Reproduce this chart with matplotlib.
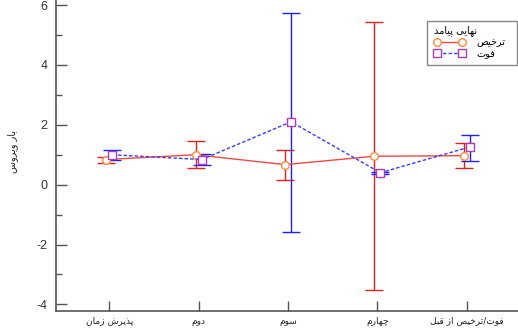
import re
import numpy as np
import matplotlib
matplotlib.use("Agg")
import matplotlib.pyplot as plt
from matplotlib.patches import Rectangle

# ---------------- data ----------------
categories = ["زمان پذیرش", "دوم", "سوم", "چهارم", "قبل از ترخیص/فوت"]
series_names = ["ترخیص", "فوت"]
legend_title = "پیامد نهایی"
y_label = "بار ویروس"

discharge_mean = [0.84, 1.00, 0.67, 0.95, 0.97]
discharge_low = [0.74, 0.57, 0.17, -3.51, 0.56]
discharge_high = [0.94, 1.47, 1.17, 5.42, 1.38]

death_mean = [1.00, 0.84, 2.10, 0.40, 1.26]
death_low = [0.84, 0.65, -1.57, 0.36, 0.80]
death_high = [1.17, 1.01, 5.75, 0.44, 1.66]

y_ticks = [-4, -2, 0, 2, 4, 6]

# ---------------- minimal Persian shaping ----------------
FORMS = {  # isolated, final, initial, medial
    'ا': ('\uFE8D', '\uFE8E', None, None),
    'د': ('\uFEA9', '\uFEAA', None, None),
    'ذ': ('\uFEAB', '\uFEAC', None, None),
    'ر': ('\uFEAD', '\uFEAE', None, None),
    'ز': ('\uFEAF', '\uFEB0', None, None),
    'و': ('\uFEED', '\uFEEE', None, None),
    'ب': ('\uFE8F', '\uFE90', '\uFE91', '\uFE92'),
    'پ': ('\uFB56', '\uFB57', '\uFB58', '\uFB59'),
    'ت': ('\uFE95', '\uFE96', '\uFE97', '\uFE98'),
    'ج': ('\uFE9D', '\uFE9E', '\uFE9F', '\uFEA0'),
    'چ': ('\uFB7A', '\uFB7B', '\uFB7C', '\uFB7D'),
    'خ': ('\uFEA5', '\uFEA6', '\uFEA7', '\uFEA8'),
    'س': ('\uFEB1', '\uFEB2', '\uFEB3', '\uFEB4'),
    'ش': ('\uFEB5', '\uFEB6', '\uFEB7', '\uFEB8'),
    'ص': ('\uFEB9', '\uFEBA', '\uFEBB', '\uFEBC'),
    'ف': ('\uFED1', '\uFED2', '\uFED3', '\uFED4'),
    'ق': ('\uFED5', '\uFED6', '\uFED7', '\uFED8'),
    'ل': ('\uFEDD', '\uFEDE', '\uFEDF', '\uFEE0'),
    'م': ('\uFEE1', '\uFEE2', '\uFEE3', '\uFEE4'),
    'ن': ('\uFEE5', '\uFEE6', '\uFEE7', '\uFEE8'),
    'ه': ('\uFEE9', '\uFEEA', '\uFEEB', '\uFEEC'),
    'ی': ('\uFEEF', '\uFEF0', '\uFEF3', '\uFEF4'),
}


def shape_word(w):
    out = []
    for i, ch in enumerate(w):
        f = FORMS.get(ch)
        if f is None:
            out.append(ch)
            continue
        prev = w[i - 1] if i > 0 else None
        nxt = w[i + 1] if i + 1 < len(w) else None
        jp = prev in FORMS and FORMS[prev][2] is not None
        jn = f[2] is not None and nxt in FORMS
        if jp and jn:
            out.append(f[3])
        elif jp:
            out.append(f[1])
        elif jn:
            out.append(f[2])
        else:
            out.append(f[0])
    return ''.join(reversed(out))


def fa(text):
    # shape each Arabic run; keep run order left-to-right as in the reference
    return re.sub('[\u0600-\u06FF]+', lambda m: shape_word(m.group(0)), text)


def fa_rtl(text):
    return ' '.join(fa(w) for w in reversed(text.split(' ')))


# ---------------- plot ----------------
FONT = ['Liberation Sans', 'DejaVu Sans']
AR = ['DejaVu Sans']

fig = plt.figure(figsize=(5.18, 3.31), dpi=100)
ax = fig.add_axes([56 / 518, 20 / 331, 1 - 56 / 518, 1 - 20 / 331])

x = np.arange(len(categories))
dodge = 0.035

red_line = '#EC4A46'
red_err = '#E0221E'
orange = '#FF8C3A'
blue_line = '#3A3AF8'
blue_err = '#1F1FF5'
purple = '#B03AB8'

d_mean = np.array(discharge_mean)
d_err = np.vstack([d_mean - np.array(discharge_low), np.array(discharge_high) - d_mean])
m_mean = np.array(death_mean)
m_err = np.vstack([m_mean - np.array(death_low), np.array(death_high) - m_mean])

ax.errorbar(x - dodge, d_mean, yerr=d_err, fmt='none', ecolor=red_err,
            elinewidth=1.0, capsize=6.5, capthick=1.0, zorder=2)
ax.errorbar(x + dodge, m_mean, yerr=m_err, fmt='none', ecolor=blue_err,
            elinewidth=1.0, capsize=6.5, capthick=1.0, zorder=2)

ax.plot(x - dodge, d_mean, color=red_line, lw=1.0, ls='-', marker='o', ms=5.5,
        mfc='white', mec=orange, mew=1.0, label=fa(series_names[0]), zorder=3)
ax.plot(x + dodge, m_mean, color=blue_line, lw=1.0, ls=(0, (2.5, 1.5)), marker='s', ms=5.5,
        mfc='white', mec=purple, mew=1.0, label=fa(series_names[1]), zorder=3)

ax.set_xlim(-0.597, 4.575)
ax.set_ylim(-4.22, 6.17)

ax.set_xticks(x)
ax.set_xticklabels([fa(c) for c in categories], family=AR, fontsize=6.5, color='#222222')
ax.set_yticks(y_ticks)
ax.set_yticklabels([str(v) for v in y_ticks], family=FONT, fontsize=9, color='#333333')
ax.set_yticks(np.arange(-3, 6, 2), minor=True)

spine_c = '#555555'
for s in ['top', 'right']:
    ax.spines[s].set_visible(False)
for s in ['left', 'bottom']:
    ax.spines[s].set_color(spine_c)
    ax.spines[s].set_linewidth(1.2)

ax.tick_params(axis='y', which='major', direction='in', length=8, width=1.0, color=spine_c, pad=6)
ax.tick_params(axis='y', which='minor', direction='in', length=4, width=1.0, color=spine_c)
ax.tick_params(axis='x', which='major', direction='in', length=7, width=1.0, color=spine_c, pad=4)

fig.text(13 / 518, 1 - 152 / 331, fa_rtl(y_label), rotation=90, ha='center', va='center',
         family=AR, fontsize=7, color='#222222')

leg = ax.legend(title=fa(legend_title), loc='upper left',
                bbox_to_anchor=(431 / 518, 1 - 22 / 331), bbox_transform=fig.transFigure,
                borderaxespad=0, frameon=False, numpoints=2,
                handlelength=3.15, handletextpad=1.2, labelspacing=0.15,
                borderpad=0.3, alignment='left',
                prop={'family': AR, 'size': 7}, title_fontproperties={'family': AR, 'size': 7})

fig.patches.append(Rectangle((427 / 518, 1 - 65 / 331), 90 / 518, 44 / 331,
                             transform=fig.transFigure, fill=False,
                             edgecolor='#888888', linewidth=1.0))

fig.savefig('out.png', dpi=100)
